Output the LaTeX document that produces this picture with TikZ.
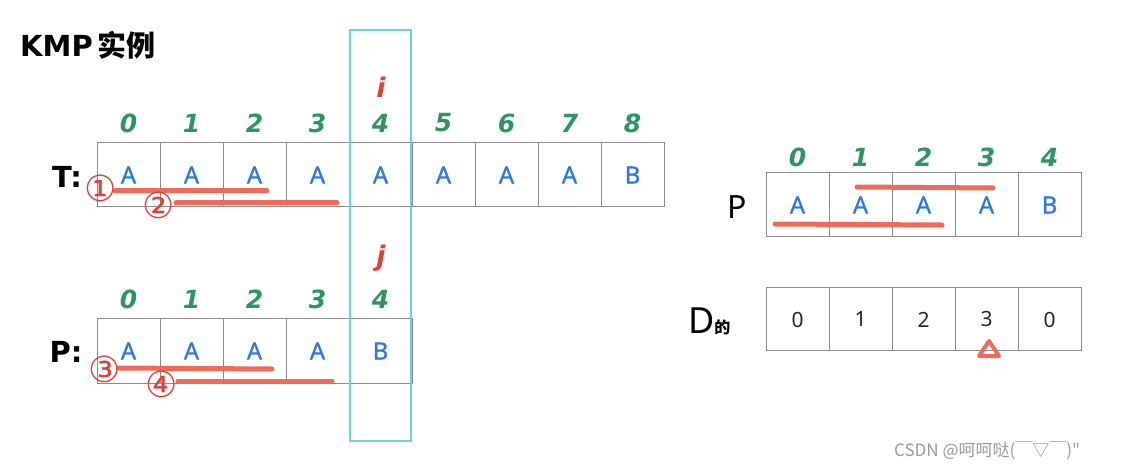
\documentclass[tikz,border=0pt]{standalone}
\usepackage{fontspec}
\setmainfont{Noto Sans}
\newfontfamily\cjk{Noto Sans CJK SC}
\newfontfamily\djv{DejaVu Sans}
\newfontfamily\letf[AutoFakeBold=0.9]{Noto Sans}
\definecolor{gridc}{HTML}{8C8C8C}
\definecolor{letc}{HTML}{2F7AD6}
\definecolor{idxc}{HTML}{2E9460}
\definecolor{redc}{HTML}{D9433B}
\definecolor{linec}{HTML}{F06A5A}
\definecolor{tealc}{HTML}{66D8C8}
\definecolor{wmc}{HTML}{9A9A9A}
\tikzset{
  cell/.style={draw=gridc, line width=1pt, minimum width=63pt, minimum height=64pt, inner sep=0pt, text=letc, font=\letf\bfseries\fontsize{24}{28}\selectfont},
  dcell/.style={cell, minimum height=63pt, text=black!85, font=\fontsize{21}{25}\selectfont},
  idx/.style={text=idxc, font=\djv\fontsize{25}{30}\selectfont\bfseries\itshape, inner sep=0pt},
  ptr/.style={text=redc, font=\djv\fontsize{27}{30}\selectfont\bfseries\itshape, inner sep=0pt},
  uline/.style={draw=linec, line width=5pt, line cap=round},
  circnum/.style={text=redc, font=\djv\fontsize{36}{38}\selectfont, inner sep=0pt},
  lbl/.style={text=black, font=\djv\fontsize{29}{34}\selectfont\bfseries, inner sep=0pt}
}
\begin{document}
\begin{tikzpicture}[x=1pt,y=-1pt]
\useasboundingbox (0,0) rectangle (1122,470);
% title
\node[anchor=west, inner sep=0pt, font=\djv\fontsize{29}{32}\selectfont\bfseries] (title) at (20,45) {KMP\,{\cjk\bfseries 实例}};
% T row
\foreach \c [count=\k from 0] in {A,A,A,A,A,A,A,A,B} {
  \node[cell] (t\k) at (128.5+63*\k,175) {\c};
  \node[idx] (ti\k) at (128.5+63*\k,123) {\k};
}
\node[lbl] (tl) at (67,177) {T:};
% P row
\foreach \c [count=\k from 0] in {A,A,A,A,B} {
  \node[cell] (p\k) at (128.5+63*\k,351) {\c};
  \node[idx] (pi\k) at (128.5+63*\k,299) {\k};
}
\node[lbl] (pl) at (66,352) {P:};
\node[ptr] (iptr) at (381,87) {i};
\node[ptr] (jptr) at (381,258) {j};
% teal window
\draw[tealc, line width=2pt] (349.5,30) rectangle (411,441);
% underlines T
\coordinate (u1a) at (115,191); \coordinate (u1b) at (267,191);
\coordinate (u2a) at (176,203); \coordinate (u2b) at (337,203);
\draw[uline] (u1a) -- (u1b);
\draw[uline] (u2a) -- (u2b);
\node[circnum] (c1) at (101,188) {①};
\node[circnum] (c2) at (159,205) {②};
% underlines P
\coordinate (u3a) at (119,368); \coordinate (u3b) at (272,369);
\coordinate (u4a) at (178,381); \coordinate (u4b) at (332,381);
\draw[uline] (u3a) -- (u3b);
\draw[uline] (u4a) -- (u4b);
\node[circnum] (c3) at (105,369) {③};
\node[circnum] (c4) at (162,384) {④};
% right pattern
\foreach \c [count=\k from 0] in {A,A,A,A,B} {
  \node[cell] (r\k) at (797.5+63*\k,205) {\c};
  \node[idx] (ri\k) at (797.5+63*\k,157) {\k};
}
\node[inner sep=0pt, font=\fontsize{32}{34}\selectfont] (rl) at (737,207) {P};
\coordinate (r1a) at (857,187); \coordinate (r1b) at (993,188);
\coordinate (r2a) at (775,224); \coordinate (r2b) at (942,225);
\draw[uline] (r1a) -- (r1b);
\draw[uline] (r2a) -- (r2b);
% D row
\foreach \v [count=\k from 0] in {0,1,2,3,0} {
  \node[dcell] (d\k) at (797.5+63*\k,319.5) {\v};
}
\node[anchor=west, inner sep=0pt] (dl) at (688,321) {{\fontsize{36}{38}\selectfont D}{\cjk\bfseries\fontsize{16}{18}\selectfont 的}};
\draw[draw=linec, line width=4pt, line join=round] (979,356) -- (989,341) -- (999,356) -- cycle;
% watermark
\node[anchor=west, inner sep=0pt, text=wmc, font=\cjk\fontsize{17}{19}\selectfont] (wm) at (894,451) {CSDN @呵呵哒(￣▽￣)"};
\end{tikzpicture}
\end{document}
